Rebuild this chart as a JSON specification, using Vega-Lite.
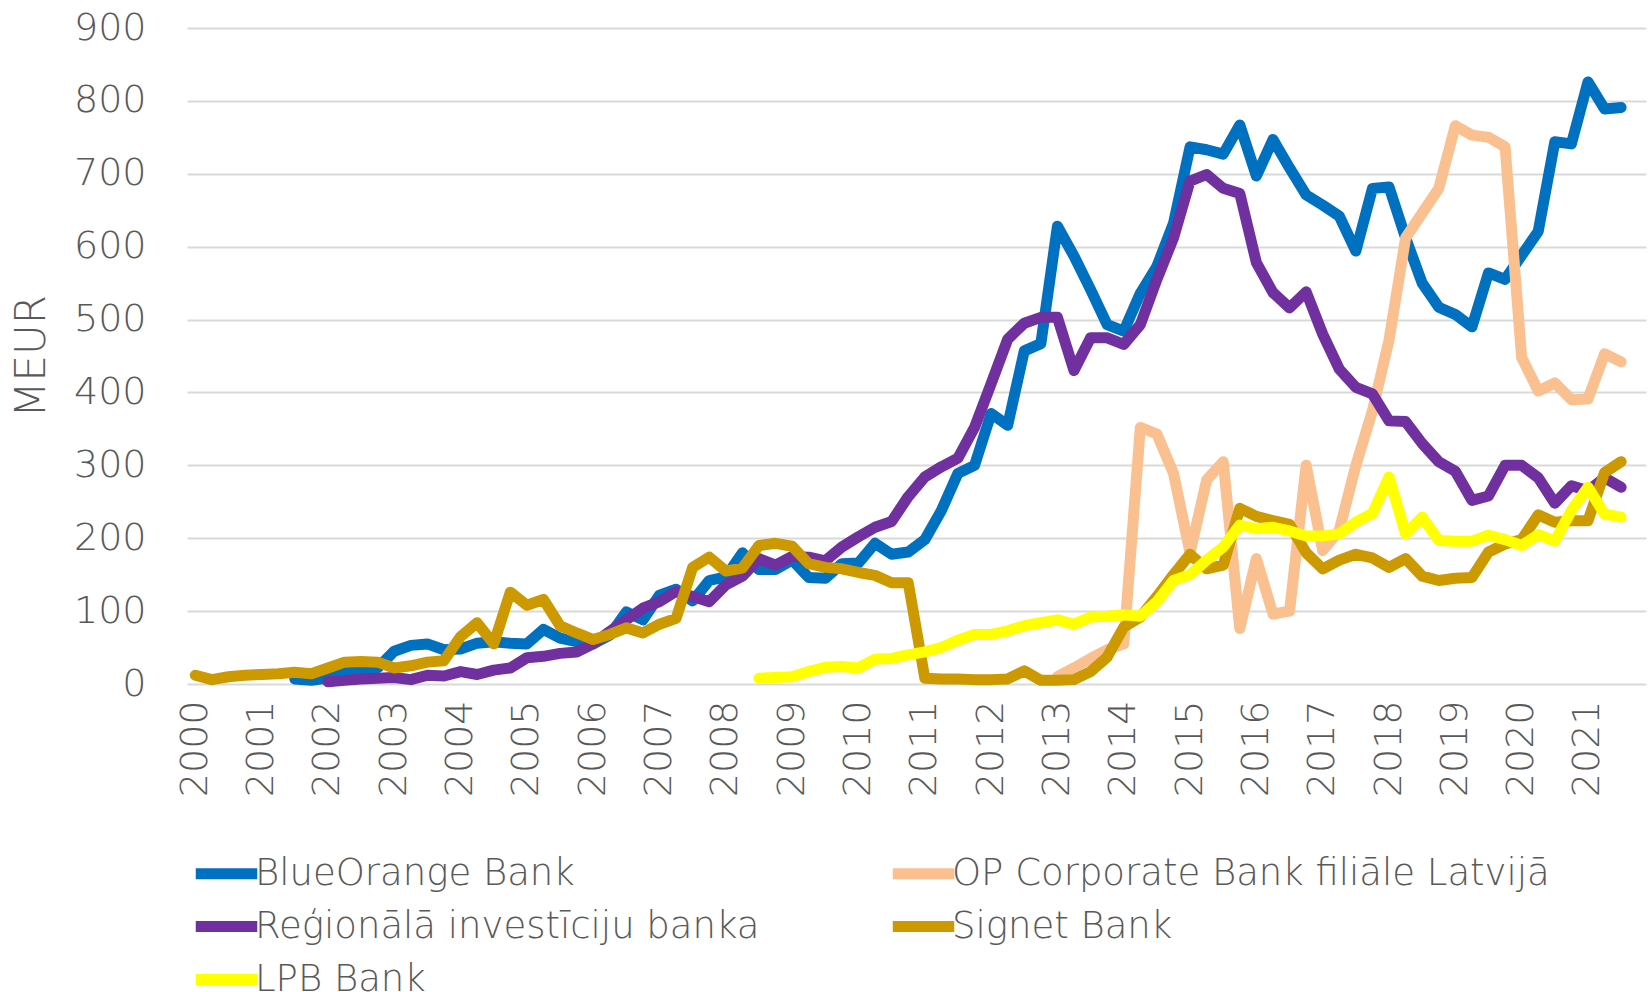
{
"$schema": "https://vega.github.io/schema/vega-lite/v6.json",
"width": 1459, "height": 656,
"autosize": {"type": "none"},
"padding": {"left": 187, "top": 28, "right": 4, "bottom": 308},
"background": "white",
"config": {"view": {"stroke": null}, "font": "DejaVu Sans"},
"data": {"values": [
{"s":"A","t":2001.5,"v":7},{"s":"A","t":2001.75,"v":5},{"s":"A","t":2002,"v":8},{"s":"A","t":2002.25,"v":17},{"s":"A","t":2002.5,"v":20},{"s":"A","t":2002.75,"v":22},{"s":"A","t":2003,"v":45},{"s":"A","t":2003.25,"v":53},{"s":"A","t":2003.5,"v":55},{"s":"A","t":2003.75,"v":47},{"s":"A","t":2004,"v":48},{"s":"A","t":2004.25,"v":56},{"s":"A","t":2004.5,"v":58},{"s":"A","t":2004.75,"v":56},{"s":"A","t":2005,"v":55},{"s":"A","t":2005.25,"v":75},{"s":"A","t":2005.5,"v":63},{"s":"A","t":2005.75,"v":58},{"s":"A","t":2006,"v":55},{"s":"A","t":2006.25,"v":67},{"s":"A","t":2006.5,"v":99},{"s":"A","t":2006.75,"v":88},{"s":"A","t":2007,"v":122},{"s":"A","t":2007.25,"v":130},{"s":"A","t":2007.5,"v":114},{"s":"A","t":2007.75,"v":142},{"s":"A","t":2008,"v":147},{"s":"A","t":2008.25,"v":180},{"s":"A","t":2008.5,"v":157},{"s":"A","t":2008.75,"v":157},{"s":"A","t":2009,"v":170},{"s":"A","t":2009.25,"v":146},{"s":"A","t":2009.5,"v":145},{"s":"A","t":2009.75,"v":165},{"s":"A","t":2010,"v":166},{"s":"A","t":2010.25,"v":193},{"s":"A","t":2010.5,"v":178},{"s":"A","t":2010.75,"v":181},{"s":"A","t":2011,"v":198},{"s":"A","t":2011.25,"v":238},{"s":"A","t":2011.5,"v":289},{"s":"A","t":2011.75,"v":300},{"s":"A","t":2012,"v":371},{"s":"A","t":2012.25,"v":355},{"s":"A","t":2012.5,"v":457},{"s":"A","t":2012.75,"v":467},{"s":"A","t":2013,"v":628},{"s":"A","t":2013.25,"v":587},{"s":"A","t":2013.5,"v":541},{"s":"A","t":2013.75,"v":493},{"s":"A","t":2014,"v":484},{"s":"A","t":2014.25,"v":536},{"s":"A","t":2014.5,"v":573},{"s":"A","t":2014.75,"v":632},{"s":"A","t":2015,"v":737},{"s":"A","t":2015.25,"v":733},{"s":"A","t":2015.5,"v":727},{"s":"A","t":2015.75,"v":767},{"s":"A","t":2016,"v":697},{"s":"A","t":2016.25,"v":747},{"s":"A","t":2016.5,"v":708},{"s":"A","t":2016.75,"v":671},{"s":"A","t":2017,"v":657},{"s":"A","t":2017.25,"v":642},{"s":"A","t":2017.5,"v":594},{"s":"A","t":2017.75,"v":680},{"s":"A","t":2018,"v":682},{"s":"A","t":2018.25,"v":612},{"s":"A","t":2018.5,"v":550},{"s":"A","t":2018.75,"v":517},{"s":"A","t":2019,"v":507},{"s":"A","t":2019.25,"v":490},{"s":"A","t":2019.5,"v":564},{"s":"A","t":2019.75,"v":555},{"s":"A","t":2020,"v":588},{"s":"A","t":2020.25,"v":621},{"s":"A","t":2020.5,"v":744},{"s":"A","t":2020.75,"v":741},{"s":"A","t":2021,"v":826},{"s":"A","t":2021.25,"v":789},{"s":"A","t":2021.5,"v":791},
{"s":"B","t":2013,"v":10},{"s":"B","t":2013.25,"v":22},{"s":"B","t":2013.5,"v":35},{"s":"B","t":2013.75,"v":47},{"s":"B","t":2014,"v":55},{"s":"B","t":2014.25,"v":352},{"s":"B","t":2014.5,"v":343},{"s":"B","t":2014.75,"v":289},{"s":"B","t":2015,"v":180},{"s":"B","t":2015.25,"v":280},{"s":"B","t":2015.5,"v":305},{"s":"B","t":2015.75,"v":76},{"s":"B","t":2016,"v":172},{"s":"B","t":2016.25,"v":96},{"s":"B","t":2016.5,"v":100},{"s":"B","t":2016.75,"v":300},{"s":"B","t":2017,"v":183},{"s":"B","t":2017.25,"v":211},{"s":"B","t":2017.5,"v":300},{"s":"B","t":2017.75,"v":375},{"s":"B","t":2018,"v":472},{"s":"B","t":2018.25,"v":612},{"s":"B","t":2018.5,"v":646},{"s":"B","t":2018.75,"v":680},{"s":"B","t":2019,"v":766},{"s":"B","t":2019.25,"v":753},{"s":"B","t":2019.5,"v":750},{"s":"B","t":2019.75,"v":737},{"s":"B","t":2020,"v":448},{"s":"B","t":2020.25,"v":402},{"s":"B","t":2020.5,"v":413},{"s":"B","t":2020.75,"v":390},{"s":"B","t":2021,"v":391},{"s":"B","t":2021.25,"v":453},{"s":"B","t":2021.5,"v":442},
{"s":"C","t":2002,"v":3},{"s":"C","t":2002.25,"v":5},{"s":"C","t":2002.5,"v":7},{"s":"C","t":2002.75,"v":8},{"s":"C","t":2003,"v":9},{"s":"C","t":2003.25,"v":6},{"s":"C","t":2003.5,"v":12},{"s":"C","t":2003.75,"v":11},{"s":"C","t":2004,"v":17},{"s":"C","t":2004.25,"v":13},{"s":"C","t":2004.5,"v":19},{"s":"C","t":2004.75,"v":22},{"s":"C","t":2005,"v":36},{"s":"C","t":2005.25,"v":38},{"s":"C","t":2005.5,"v":42},{"s":"C","t":2005.75,"v":44},{"s":"C","t":2006,"v":55},{"s":"C","t":2006.25,"v":72},{"s":"C","t":2006.5,"v":88},{"s":"C","t":2006.75,"v":104},{"s":"C","t":2007,"v":113},{"s":"C","t":2007.25,"v":127},{"s":"C","t":2007.5,"v":120},{"s":"C","t":2007.75,"v":113},{"s":"C","t":2008,"v":136},{"s":"C","t":2008.25,"v":148},{"s":"C","t":2008.5,"v":172},{"s":"C","t":2008.75,"v":163},{"s":"C","t":2009,"v":175},{"s":"C","t":2009.25,"v":174},{"s":"C","t":2009.5,"v":169},{"s":"C","t":2009.75,"v":188},{"s":"C","t":2010,"v":202},{"s":"C","t":2010.25,"v":215},{"s":"C","t":2010.5,"v":223},{"s":"C","t":2010.75,"v":257},{"s":"C","t":2011,"v":284},{"s":"C","t":2011.25,"v":298},{"s":"C","t":2011.5,"v":310},{"s":"C","t":2011.75,"v":352},{"s":"C","t":2012,"v":412},{"s":"C","t":2012.25,"v":473},{"s":"C","t":2012.5,"v":495},{"s":"C","t":2012.75,"v":503},{"s":"C","t":2013,"v":503},{"s":"C","t":2013.25,"v":430},{"s":"C","t":2013.5,"v":475},{"s":"C","t":2013.75,"v":475},{"s":"C","t":2014,"v":466},{"s":"C","t":2014.25,"v":493},{"s":"C","t":2014.5,"v":555},{"s":"C","t":2014.75,"v":612},{"s":"C","t":2015,"v":690},{"s":"C","t":2015.25,"v":699},{"s":"C","t":2015.5,"v":680},{"s":"C","t":2015.75,"v":673},{"s":"C","t":2016,"v":578},{"s":"C","t":2016.25,"v":537},{"s":"C","t":2016.5,"v":516},{"s":"C","t":2016.75,"v":538},{"s":"C","t":2017,"v":480},{"s":"C","t":2017.25,"v":432},{"s":"C","t":2017.5,"v":407},{"s":"C","t":2017.75,"v":398},{"s":"C","t":2018,"v":361},{"s":"C","t":2018.25,"v":360},{"s":"C","t":2018.5,"v":330},{"s":"C","t":2018.75,"v":305},{"s":"C","t":2019,"v":292},{"s":"C","t":2019.25,"v":252},{"s":"C","t":2019.5,"v":258},{"s":"C","t":2019.75,"v":300},{"s":"C","t":2020,"v":300},{"s":"C","t":2020.25,"v":283},{"s":"C","t":2020.5,"v":248},{"s":"C","t":2020.75,"v":272},{"s":"C","t":2021,"v":265},{"s":"C","t":2021.25,"v":283},{"s":"C","t":2021.5,"v":270},
{"s":"D","t":2000,"v":12},{"s":"D","t":2000.25,"v":6},{"s":"D","t":2000.5,"v":10},{"s":"D","t":2000.75,"v":12},{"s":"D","t":2001,"v":13},{"s":"D","t":2001.25,"v":14},{"s":"D","t":2001.5,"v":16},{"s":"D","t":2001.75,"v":14},{"s":"D","t":2002,"v":22},{"s":"D","t":2002.25,"v":30},{"s":"D","t":2002.5,"v":31},{"s":"D","t":2002.75,"v":30},{"s":"D","t":2003,"v":22},{"s":"D","t":2003.25,"v":25},{"s":"D","t":2003.5,"v":30},{"s":"D","t":2003.75,"v":32},{"s":"D","t":2004,"v":65},{"s":"D","t":2004.25,"v":84},{"s":"D","t":2004.5,"v":55},{"s":"D","t":2004.75,"v":126},{"s":"D","t":2005,"v":108},{"s":"D","t":2005.25,"v":116},{"s":"D","t":2005.5,"v":80},{"s":"D","t":2005.75,"v":70},{"s":"D","t":2006,"v":61},{"s":"D","t":2006.25,"v":68},{"s":"D","t":2006.5,"v":77},{"s":"D","t":2006.75,"v":70},{"s":"D","t":2007,"v":82},{"s":"D","t":2007.25,"v":90},{"s":"D","t":2007.5,"v":160},{"s":"D","t":2007.75,"v":174},{"s":"D","t":2008,"v":155},{"s":"D","t":2008.25,"v":159},{"s":"D","t":2008.5,"v":190},{"s":"D","t":2008.75,"v":193},{"s":"D","t":2009,"v":189},{"s":"D","t":2009.25,"v":165},{"s":"D","t":2009.5,"v":160},{"s":"D","t":2009.75,"v":158},{"s":"D","t":2010,"v":153},{"s":"D","t":2010.25,"v":149},{"s":"D","t":2010.5,"v":139},{"s":"D","t":2010.75,"v":139},{"s":"D","t":2011,"v":8},{"s":"D","t":2011.25,"v":7},{"s":"D","t":2011.5,"v":7},{"s":"D","t":2011.75,"v":6},{"s":"D","t":2012,"v":6},{"s":"D","t":2012.25,"v":7},{"s":"D","t":2012.5,"v":18},{"s":"D","t":2012.75,"v":5},{"s":"D","t":2013,"v":5},{"s":"D","t":2013.25,"v":6},{"s":"D","t":2013.5,"v":17},{"s":"D","t":2013.75,"v":37},{"s":"D","t":2014,"v":78},{"s":"D","t":2014.25,"v":92},{"s":"D","t":2014.5,"v":120},{"s":"D","t":2014.75,"v":150},{"s":"D","t":2015,"v":178},{"s":"D","t":2015.25,"v":158},{"s":"D","t":2015.5,"v":163},{"s":"D","t":2015.75,"v":241},{"s":"D","t":2016,"v":230},{"s":"D","t":2016.25,"v":224},{"s":"D","t":2016.5,"v":219},{"s":"D","t":2016.75,"v":180},{"s":"D","t":2017,"v":158},{"s":"D","t":2017.25,"v":170},{"s":"D","t":2017.5,"v":178},{"s":"D","t":2017.75,"v":173},{"s":"D","t":2018,"v":160},{"s":"D","t":2018.25,"v":172},{"s":"D","t":2018.5,"v":148},{"s":"D","t":2018.75,"v":142},{"s":"D","t":2019,"v":145},{"s":"D","t":2019.25,"v":146},{"s":"D","t":2019.5,"v":181},{"s":"D","t":2019.75,"v":192},{"s":"D","t":2020,"v":198},{"s":"D","t":2020.25,"v":232},{"s":"D","t":2020.5,"v":222},{"s":"D","t":2020.75,"v":224},{"s":"D","t":2021,"v":224},{"s":"D","t":2021.25,"v":290},{"s":"D","t":2021.5,"v":305},
{"s":"E","t":2008.5,"v":8},{"s":"E","t":2008.75,"v":9},{"s":"E","t":2009,"v":10},{"s":"E","t":2009.25,"v":17},{"s":"E","t":2009.5,"v":23},{"s":"E","t":2009.75,"v":24},{"s":"E","t":2010,"v":22},{"s":"E","t":2010.25,"v":34},{"s":"E","t":2010.5,"v":35},{"s":"E","t":2010.75,"v":40},{"s":"E","t":2011,"v":44},{"s":"E","t":2011.25,"v":50},{"s":"E","t":2011.5,"v":60},{"s":"E","t":2011.75,"v":68},{"s":"E","t":2012,"v":68},{"s":"E","t":2012.25,"v":73},{"s":"E","t":2012.5,"v":80},{"s":"E","t":2012.75,"v":84},{"s":"E","t":2013,"v":88},{"s":"E","t":2013.25,"v":82},{"s":"E","t":2013.5,"v":92},{"s":"E","t":2013.75,"v":93},{"s":"E","t":2014,"v":95},{"s":"E","t":2014.25,"v":93},{"s":"E","t":2014.5,"v":113},{"s":"E","t":2014.75,"v":142},{"s":"E","t":2015,"v":150},{"s":"E","t":2015.25,"v":170},{"s":"E","t":2015.5,"v":188},{"s":"E","t":2015.75,"v":218},{"s":"E","t":2016,"v":213},{"s":"E","t":2016.25,"v":215},{"s":"E","t":2016.5,"v":210},{"s":"E","t":2016.75,"v":203},{"s":"E","t":2017,"v":203},{"s":"E","t":2017.25,"v":206},{"s":"E","t":2017.5,"v":222},{"s":"E","t":2017.75,"v":234},{"s":"E","t":2018,"v":284},{"s":"E","t":2018.25,"v":206},{"s":"E","t":2018.5,"v":229},{"s":"E","t":2018.75,"v":197},{"s":"E","t":2019,"v":196},{"s":"E","t":2019.25,"v":196},{"s":"E","t":2019.5,"v":204},{"s":"E","t":2019.75,"v":198},{"s":"E","t":2020,"v":190},{"s":"E","t":2020.25,"v":205},{"s":"E","t":2020.5,"v":196},{"s":"E","t":2020.75,"v":238},{"s":"E","t":2021,"v":270},{"s":"E","t":2021.25,"v":233},{"s":"E","t":2021.5,"v":229}
]},
"mark": {"type": "line", "strokeWidth": 11, "strokeCap": "round", "strokeJoin": "round"},
"encoding": {
  "x": {"field": "t", "type": "quantitative",
    "scale": {"domain": [1999.875, 2021.875], "nice": false, "zero": false},
    "axis": {"values": [2000,2001,2002,2003,2004,2005,2006,2007,2008,2009,2010,2011,2012,2013,2014,2015,2016,2017,2018,2019,2020,2021],
      "format": "d", "labelAngle": -90, "grid": false, "domain": false, "ticks": false, "tickSize": 0,
      "labelFontSize": 38, "labelFontWeight": 200, "labelColor": "#595959", "labelPadding": 16, "labelFlush": false, "labelOverlap": false, "title": null}},
  "y": {"field": "v", "type": "quantitative",
    "scale": {"domain": [0, 900], "nice": false},
    "axis": {"values": [0,100,200,300,400,500,600,700,800,900], "grid": true, "gridColor": "#d9d9d9", "gridWidth": 2,
      "domain": false, "ticks": false, "tickSize": 0, "labelFontSize": 38, "labelFontWeight": 200, "labelColor": "#595959", "labelPadding": 41,
      "title": "MEUR", "titleFontSize": 42, "titleFontWeight": 200, "titleColor": "#595959", "titlePadding": 20}},
  "color": {"field": "s", "type": "nominal",
    "scale": {"domain": ["A","B","C","D","E"], "range": ["#0070C0","#FAC090","#7030A0","#CC9900","#FFFF00"]},
    "legend": {"orient": "none", "legendX": 19, "legendY": 825, "columns": 2, "direction": "horizontal", "title": null,
      "symbolType": "M-2.05,0H2.05", "symbolSize": 900, "symbolStrokeWidth": 11, "symbolOpacity": 1,
      "labelFontSize": 37, "labelFontWeight": 200, "labelColor": "#595959", "labelOffset": 8, "labelLimit": 900,
      "rowPadding": 8, "columnPadding": 110,
      "labelExpr": "datum.label == 'A' ? 'BlueOrange Bank' : datum.label == 'B' ? 'OP Corporate Bank filiāle Latvijā' : datum.label == 'C' ? 'Reģionālā investīciju banka' : datum.label == 'D' ? 'Signet Bank' : 'LPB Bank'"}}
}
}
